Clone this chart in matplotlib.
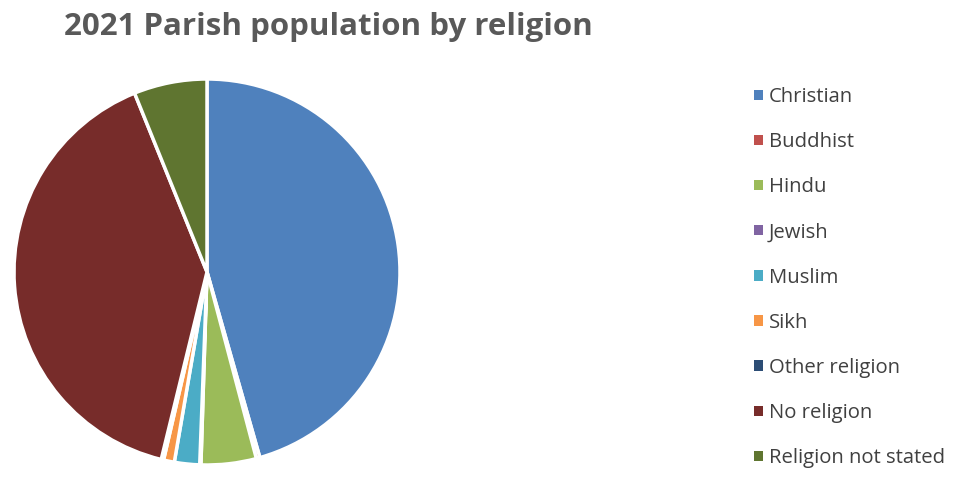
import matplotlib.pyplot as plt
from matplotlib.patches import Patch

# Values (percent of parish population)
religions = ['Christian', 'Buddhist', 'Hindu', 'Jewish', 'Muslim', 'Sikh',
             'Other religion', 'No religion', 'Religion not stated']
shares = [45.4, 0.3, 4.6, 0.1, 2.1, 0.9, 0.2, 39.9, 6.1]
colors = ['#4F81BD', '#C0504D', '#9BBB59', '#8064A2', '#4BACC6', '#F79646',
          '#2C4D75', '#772C2A', '#5F7530']

plt.rcParams['font.family'] = ['Open Sans', 'DejaVu Sans']

fig = plt.figure(figsize=(9.54, 4.83), dpi=100)
ax = fig.add_axes([14 / 954, 18 / 483, 386 / 954, 386 / 483])
ax.pie(shares, colors=colors, startangle=90, counterclock=False,
       wedgeprops={'edgecolor': 'white', 'linewidth': 2.5})
ax.set_xlim(-1, 1)
ax.set_ylim(-1, 1)
ax.set_aspect('equal')
ax.axis('off')

fig.text(64 / 954, 1 - 27 / 483, '2021 Parish population by religion',
         fontsize=22.5, fontweight='bold', color='#595959', va='center', ha='left')

handles = [Patch(facecolor=c, edgecolor='none') for c in colors]
fig.legend(handles, religions, loc='upper left',
           bbox_to_anchor=(754 / 954, 1 - 87 / 483), frameon=False,
           borderpad=0, borderaxespad=0,
           fontsize=14.6, labelcolor='#404040', handlelength=0.42, handleheight=0.42,
           handletextpad=0.32, labelspacing=1.24)

fig.savefig('out.png', dpi=100)
